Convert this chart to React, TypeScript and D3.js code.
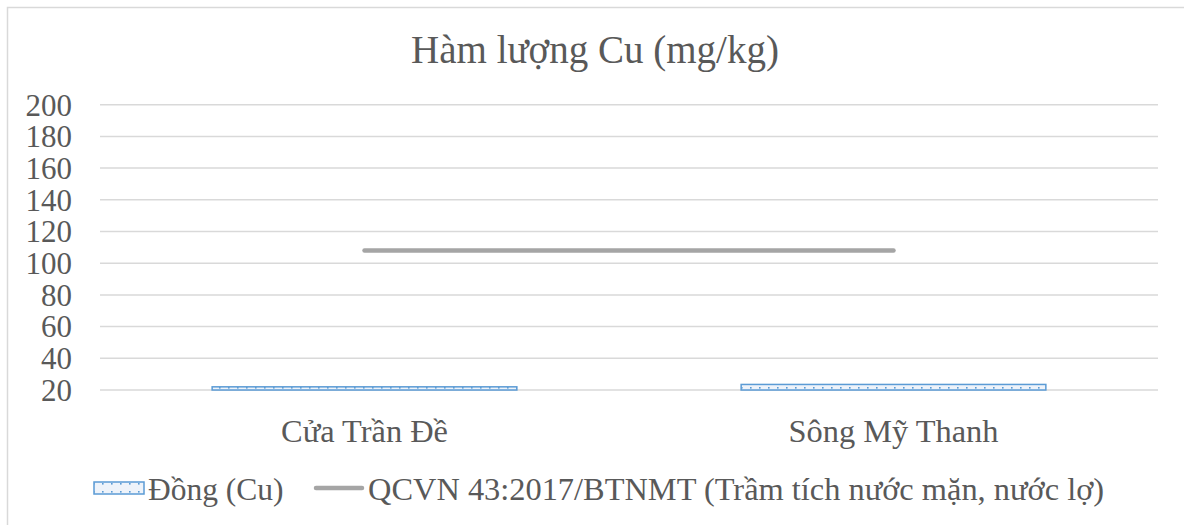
import React from "react";
import * as d3 from "d3";

const categories: string[] = ["Cửa Trần Đề", "Sông Mỹ Thanh"];
const copperValues: number[] = [22, 23.5];
const standardValues: number[] = [108, 108];
const yTicks: number[] = [20, 40, 60, 80, 100, 120, 140, 160, 180, 200];
const title = "Hàm lượng Cu (mg/kg)";
const barSeriesName = "Đồng (Cu)";
const lineSeriesName = "QCVN 43:2017/BTNMT (Trầm tích nước mặn, nước lợ)";

const W = 1184;
const H = 525;
const plotLeft = 100;
const plotRight = 1158;
const plotTop = 104.7;
const plotBottom = 390;
const textColor = "#595959";
const font = "'Liberation Serif', 'Times New Roman', serif";

export default function App() {
  const x = d3.scaleBand<string>().domain(categories).range([plotLeft, plotRight]).padding(0);
  const y = d3.scaleLinear().domain([20, 200]).range([plotBottom, plotTop]);
  const barW = x.bandwidth() * 0.576;
  const cx = (c: string) => (x(c) as number) + x.bandwidth() / 2;

  const line = d3
    .line<number>()
    .x((_, i) => cx(categories[i]))
    .y((d) => y(d));

  return (
    <svg
      width={W}
      height={H}
      style={{ position: "absolute", left: 0, top: 0, background: "#fff" }}
      fontFamily={font}
    >
      <defs>
        <pattern id="dots" width="9" height="8" patternUnits="userSpaceOnUse">
          <rect width="9" height="8" fill="#eef3fa" />
          <rect x="3" y="3" width="1.6" height="1.6" fill="#5b9bd5" />
        </pattern>
      </defs>
      <rect x={7.5} y={7.5} width={W + 10} height={H + 10} fill="#fff" stroke="#d9d9d9" strokeWidth={1.5} />
      <text x={595} y={63} textAnchor="middle" fontSize={39} fill={textColor}>
        {title}
      </text>
      {yTicks.map((t) => (
        <g key={t}>
          <line x1={plotLeft} x2={plotRight} y1={y(t)} y2={y(t)} stroke="#d9d9d9" strokeWidth={1.5} />
          <text x={72} y={y(t)} dy="0.35em" textAnchor="end" fontSize={31} fill={textColor}>
            {t}
          </text>
        </g>
      ))}
      {categories.map((c, i) => (
        <rect
          key={c}
          x={cx(c) - barW / 2}
          y={y(copperValues[i])}
          width={barW}
          height={y(20) - y(copperValues[i])}
          fill="url(#dots)"
          stroke="#5b9bd5"
          strokeWidth={1.5}
        />
      ))}
      <path
        d={line(standardValues) || ""}
        fill="none"
        stroke="#a5a5a5"
        strokeWidth={4.5}
        strokeLinecap="round"
      />
      {categories.map((c) => (
        <text key={c} x={cx(c)} y={442} textAnchor="middle" fontSize={32.4} fill={textColor}>
          {c}
        </text>
      ))}
      <g>
        <rect x={94} y={482} width={50} height={12} fill="url(#dots)" stroke="#5b9bd5" strokeWidth={1.5} />
        <text x={148} y={500} fontSize={31.5} fill={textColor}>
          {barSeriesName}
        </text>
        <line x1={316} x2={362} y1={488} y2={488} stroke="#a5a5a5" strokeWidth={4.5} strokeLinecap="round" />
        <text x={368} y={500} fontSize={32.4} fill={textColor}>
          {lineSeriesName}
        </text>
      </g>
    </svg>
  );
}
